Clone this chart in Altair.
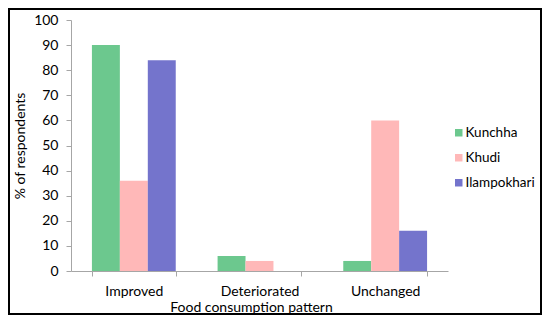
import altair as alt
import pandas as pd

categories = ["Improved", "Deteriorated", "Unchanged"]
sites = ["Kunchha", "Khudi", "Ilampokhari"]
kunchha = [90, 6, 4]
khudi = [36, 4, 60]
ilampokhari = [84, 0, 16]
colors = ["#6cc88e", "#ffb8b8", "#7474cc"]

rows = []
for site, vals in zip(sites, [kunchha, khudi, ilampokhari]):
    for c, v in zip(categories, vals):
        rows.append({"category": c, "site": site, "value": v})
df = pd.DataFrame(rows)

W, H = 377, 251
FONT = "Lato"

bars = alt.Chart(df).mark_bar().encode(
    x=alt.X("category:N", sort=categories,
            scale=alt.Scale(paddingInner=0.333, paddingOuter=0.1665),
            axis=alt.Axis(title="Food consumption pattern", labelAngle=0,
                          tickBand="extent", tickSize=5, labelPadding=8,
                          titlePadding=2, titleX=180)),
    xOffset=alt.XOffset("site:N", sort=sites,
                        scale=alt.Scale(paddingInner=0, paddingOuter=0)),
    y=alt.Y("value:Q", scale=alt.Scale(domain=[0, 100], nice=False),
            axis=alt.Axis(title="% of respondents", values=list(range(0, 101, 10)),
                          grid=False, tickSize=5, labelPadding=8, titlePadding=6)),
    color=alt.Color("site:N", sort=sites,
                    scale=alt.Scale(domain=sites, range=colors),
                    legend=alt.Legend(title=None, orient="none", legendX=381, legendY=106,
                                      symbolType="square", symbolSize=56,
                                      symbolStrokeWidth=0, labelFontSize=13.5,
                                      labelFont=FONT, rowPadding=10, labelOffset=0)),
)

frame = alt.Chart(pd.DataFrame({"a": [0]})).mark_rect(
    filled=False, stroke="black", strokeWidth=2
).encode(
    x=alt.value(-62), x2=alt.value(470), y=alt.value(-11), y2=alt.value(294)
)

chart = alt.layer(bars, frame).properties(
    width=W, height=H,
    autosize=alt.AutoSizeParams(type="none"),
    padding={"left": 63, "top": 12, "right": 94, "bottom": 44},
).configure_view(stroke=None).configure_axis(
    labelFont=FONT, titleFont=FONT, labelFontSize=14, titleFontSize=14,
    titleFontWeight="normal", labelColor="black", titleColor="black",
    domainColor="#a6a6a6", tickColor="#a6a6a6",
)

chart.save("out.html", embed_options={"renderer": "svg", "actions": False})
